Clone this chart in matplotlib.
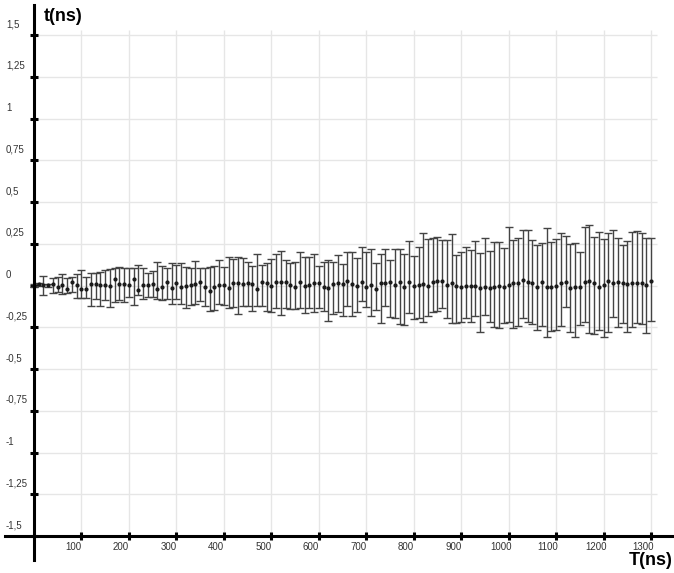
import matplotlib
matplotlib.use("Agg")
from matplotlib import pyplot as plt
from matplotlib.transforms import offset_copy

# Temps T (ns), measured t (ns), and the top / bottom of each error bar.
T = list(range(0, 1310, 10))

t_mean = [
    0.000, 0.008, 0.004, 0.002, 0.010, -0.010, 0.004, -0.020, 0.020, 0.004, -0.020,
    -0.020, 0.010, 0.010, 0.004, 0.004, -0.002, 0.040, 0.010, 0.010, 0.004,
    0.040, -0.026, 0.004, 0.004, 0.008, -0.022, -0.010, 0.020, -0.016, 0.014, -0.010,
    -0.002, 0.004, 0.010, 0.020, -0.010, -0.032, -0.006, 0.004, 0.004, -0.016, 0.014,
    0.014, 0.010, 0.014, 0.010, -0.022, 0.020, 0.014, 0.000, 0.020, 0.020, 0.020,
    0.004, -0.006, 0.020, 0.000, 0.004, 0.014, 0.014, -0.010, -0.016, 0.010, 0.014,
    0.010, 0.028, 0.010, 0.000, 0.020, -0.006, 0.004, -0.020, 0.014, 0.014, 0.020,
    0.004, 0.020, -0.010, 0.020, 0.000, 0.004, 0.010, 0.000, 0.020, 0.028, 0.028,
    0.004, 0.014, 0.000, -0.006, 0.000, 0.000, 0.000, -0.016, -0.006, -0.016, -0.006,
    0.000, -0.006, 0.004, 0.014, 0.014, 0.034, 0.020, 0.014, -0.010, 0.020, -0.006,
    -0.006, -0.002, 0.014, 0.020, -0.016, -0.006, -0.010, 0.020, 0.028, 0.014, -0.006,
    0.004, 0.028, 0.014, 0.020, 0.014, 0.010, 0.014, 0.014, 0.014, 0.004, 0.028,
]

t_top = [
    0.008, 0.016, 0.060, 0.012, 0.044, 0.054, 0.068, 0.048, 0.054, 0.068, 0.094,
    0.050, 0.078, 0.078, 0.084, 0.094, 0.098, 0.104, 0.114, 0.108, 0.104,
    0.108, 0.124, 0.104, 0.074, 0.090, 0.140, 0.120, 0.104, 0.134, 0.124, 0.134,
    0.114, 0.104, 0.148, 0.108, 0.108, 0.114, 0.120, 0.154, 0.114, 0.170, 0.158,
    0.174, 0.164, 0.140, 0.120, 0.188, 0.124, 0.134, 0.160, 0.192, 0.210, 0.154,
    0.134, 0.144, 0.204, 0.174, 0.174, 0.192, 0.120, 0.144, 0.154, 0.140, 0.184,
    0.128, 0.204, 0.204, 0.164, 0.234, 0.200, 0.220, 0.134, 0.188, 0.220, 0.154,
    0.218, 0.218, 0.188, 0.267, 0.180, 0.234, 0.313, 0.279, 0.283, 0.293, 0.273,
    0.273, 0.307, 0.184, 0.200, 0.234, 0.214, 0.267, 0.194, 0.287, 0.208, 0.259,
    0.259, 0.228, 0.353, 0.273, 0.287, 0.335, 0.333, 0.273, 0.244, 0.253, 0.343,
    0.263, 0.277, 0.313, 0.299, 0.248, 0.253, 0.204, 0.353, 0.363, 0.293, 0.319,
    0.277, 0.313, 0.333, 0.283, 0.244, 0.267, 0.323, 0.327, 0.313, 0.283, 0.283,
]

t_bottom = [
    -0.008, -0.004, -0.056, -0.008, -0.046, -0.036, -0.050, -0.046, -0.036, -0.072, -0.072,
    -0.072, -0.122, -0.080, -0.122, -0.086, -0.126, -0.096, -0.086, -0.096, -0.066,
    -0.116, -0.056, -0.080, -0.066, -0.066, -0.080, -0.086, -0.080, -0.110, -0.080, -0.110,
    -0.132, -0.116, -0.112, -0.092, -0.120, -0.150, -0.146, -0.112, -0.116, -0.132, -0.126,
    -0.172, -0.120, -0.120, -0.152, -0.120, -0.120, -0.152, -0.160, -0.132, -0.176, -0.132,
    -0.140, -0.142, -0.136, -0.166, -0.132, -0.156, -0.132, -0.152, -0.212, -0.172, -0.156,
    -0.180, -0.120, -0.180, -0.160, -0.092, -0.126, -0.180, -0.146, -0.222, -0.120, -0.186,
    -0.192, -0.232, -0.236, -0.166, -0.200, -0.192, -0.216, -0.180, -0.160, -0.152, -0.132,
    -0.196, -0.226, -0.226, -0.216, -0.196, -0.220, -0.180, -0.275, -0.176, -0.220, -0.246,
    -0.251, -0.226, -0.220, -0.251, -0.240, -0.192, -0.220, -0.232, -0.265, -0.240, -0.305,
    -0.271, -0.265, -0.240, -0.126, -0.279, -0.305, -0.236, -0.216, -0.285, -0.291, -0.265,
    -0.305, -0.275, -0.186, -0.246, -0.226, -0.279, -0.246, -0.226, -0.232, -0.285, -0.212,
]

x_ticks = list(range(100, 1400, 100))
y_ticks = [-1.5, -1.25, -1.0, -0.75, -0.5, -0.25, 0.0, 0.25, 0.5, 0.75, 1.0, 1.25, 1.5]


def fmt(v):
    # comma as decimal separator
    return f"{v:g}".replace('.', ',')


fig = plt.figure(figsize=(6.74, 5.73), dpi=100)
ax = fig.add_axes([0, 0, 1, 1])
ax.set_xlim(-71.6, 1348.2)
ax.set_ylim(-1.721, 1.710)

# Grid
ax.hlines(y_ticks, 0, 1312, colors='#e6e6e6', lw=1, zorder=0)
ax.vlines(x_ticks, -1.5, 1.53, colors='#e6e6e6', lw=1, zorder=0)

# Error bars
low = [m - b for m, b in zip(t_mean, t_bottom)]
high = [tp - m for m, tp in zip(t_mean, t_top)]
ax.errorbar(T, t_mean, yerr=[low, high], fmt='o', color='#1a1a1a', ms=2,
            ecolor='#444444', elinewidth=1, capsize=2.8, capthick=1, zorder=3)

# Axes crossing at (0, -1.5)
for s in ['top', 'right']:
    ax.spines[s].set_visible(False)
ax.spines['left'].set_position(('data', 0))
ax.spines['left'].set_bounds(-1.643, 1.68)
ax.spines['bottom'].set_position(('data', -1.5))
ax.spines['bottom'].set_bounds(-61, 1348)
for s in ['left', 'bottom']:
    ax.spines[s].set_linewidth(2.2)
    ax.spines[s].set_zorder(4)

ax.set_xticks(x_ticks)
ax.set_yticks(y_ticks)
ax.tick_params(axis='both', direction='inout', length=6, width=2.2,
               labelbottom=False, labelleft=False)

# Tick labels, offset like the original
ytrans = offset_copy(ax.transData, fig=fig, y=11, units='dots')
for v in y_ticks:
    ax.text(-59, v, fmt(v), transform=ytrans, ha='left', va='center',
            fontsize=7, color='#333333', family='Liberation Sans')
xtrans = offset_copy(ax.transData, fig=fig, x=-8, y=-11, units='dots')
for v in x_ticks:
    ax.text(v, -1.5, str(v), transform=xtrans, ha='center', va='center',
            fontsize=7, color='#333333', family='Liberation Sans')

# Axis titles
ax.text(21, 1.611, 't(ns)', ha='left', va='center', fontsize=13,
        fontweight='bold', family='Liberation Sans')
ax.text(1346, -1.645, 'T(ns)', ha='right', va='center', fontsize=13,
        fontweight='bold', family='Liberation Sans')

fig.savefig('out.png', dpi=100)
